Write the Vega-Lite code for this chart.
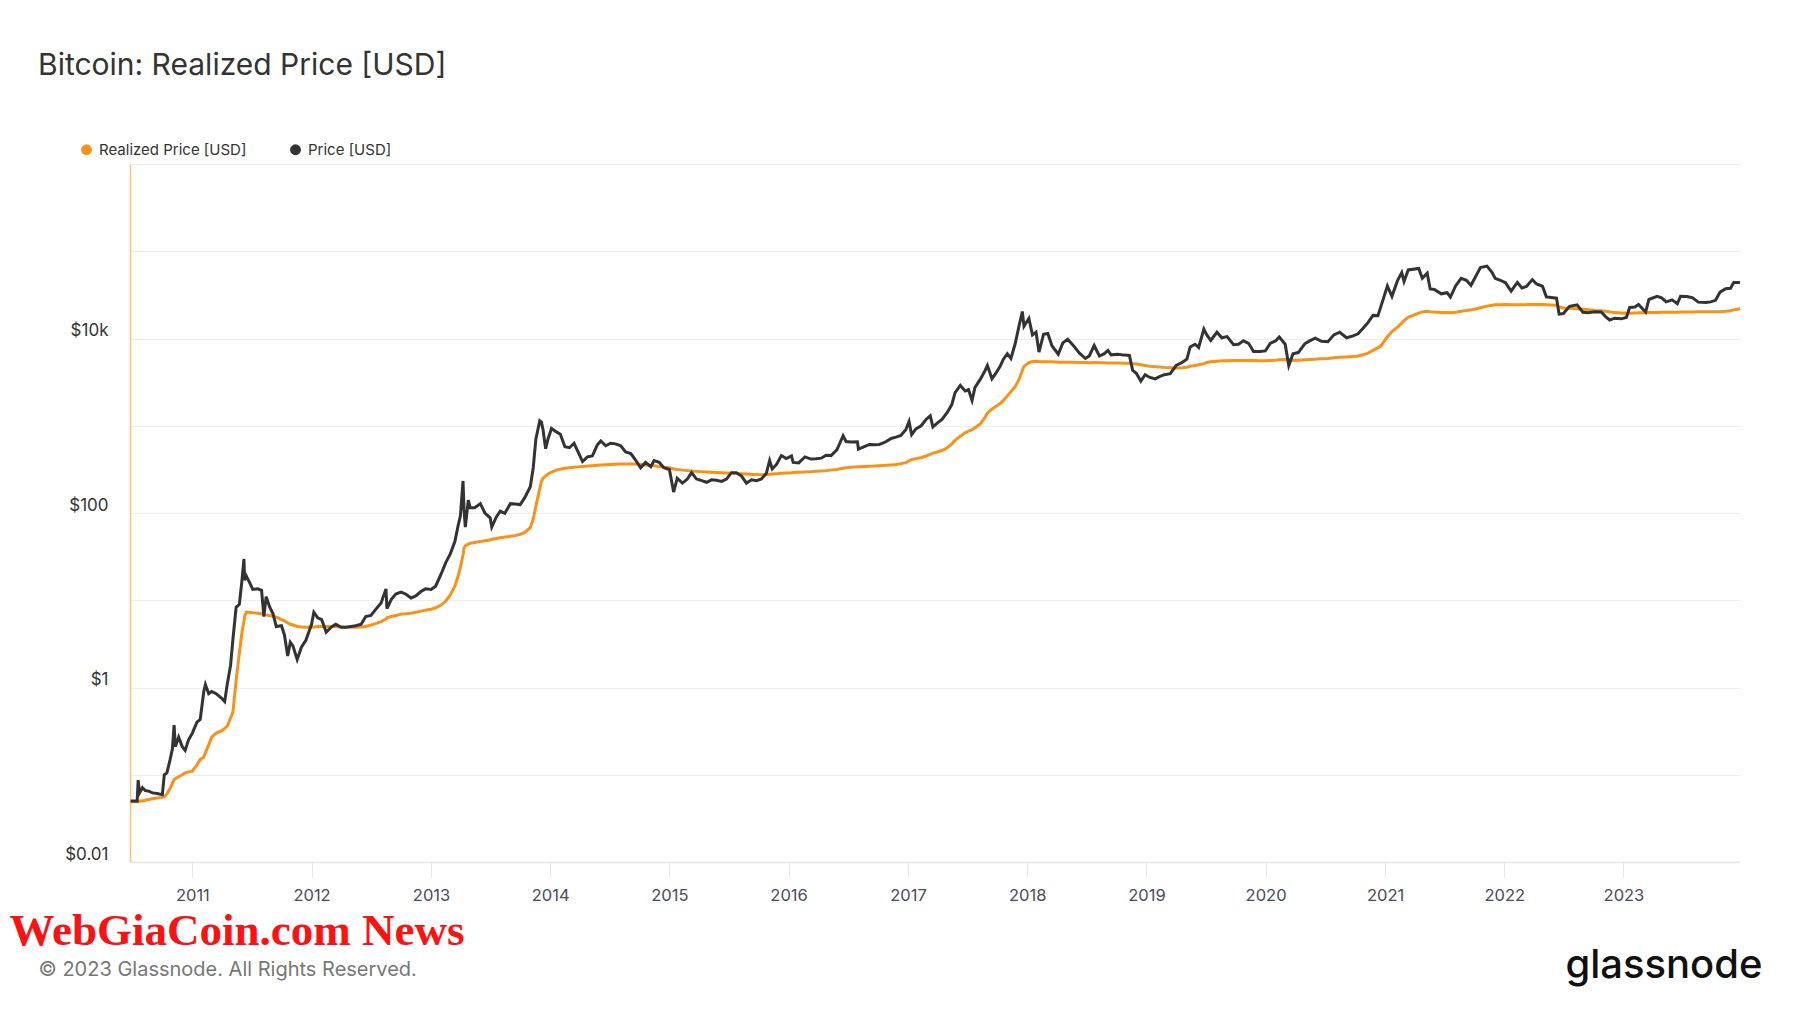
{
"$schema": "https://vega.github.io/schema/vega-lite/v6.json",
"width": 1610,
"height": 698,
"autosize": {"type": "none"},
"padding": {"left": 130, "top": 164, "right": 60, "bottom": 151},
"background": "#ffffff",
"title": {"text": "Bitcoin: Realized Price [USD]", "anchor": "start", "frame": "group", "dx": -92, "offset": 37, "font": "Inter", "fontSize": 30, "fontWeight": "normal", "color": "#333333", "baseline": "alphabetic"},
"config": {
  "view": {"stroke": null},
  "font": "Inter",
  "legend": {"orient": "none", "legendX": -51, "legendY": -22, "direction": "horizontal", "padding": 0, "columnPadding": 41, "labelFont": "Inter", "labelFontSize": 15, "labelColor": "#333333", "symbolType": "circle", "symbolSize": 120, "symbolStrokeWidth": 0, "labelOffset": 5, "title": null}
},
"data": {"values": [
{"d":"2010-06-26","p":0.05,"r":0.049},
{"d":"2010-07-16","p":0.05,"r":0.049},
{"d":"2010-07-19","p":0.087,"r":0.049},
{"d":"2010-07-23","p":0.062,"r":0.05},
{"d":"2010-08-01","p":0.071,"r":0.05},
{"d":"2010-08-10","p":0.066,"r":0.051},
{"d":"2010-08-20","p":0.065,"r":0.052},
{"d":"2010-09-01","p":0.062,"r":0.053},
{"d":"2010-09-15","p":0.061,"r":0.054},
{"d":"2010-10-01","p":0.059,"r":0.055},
{"d":"2010-10-07","p":0.1,"r":0.056},
{"d":"2010-10-15","p":0.105,"r":0.06},
{"d":"2010-10-25","p":0.15,"r":0.07},
{"d":"2010-11-01","p":0.2,"r":0.08},
{"d":"2010-11-06","p":0.37,"r":0.088},
{"d":"2010-11-10","p":0.21,"r":0.09},
{"d":"2010-11-20","p":0.27,"r":0.095},
{"d":"2010-12-01","p":0.21,"r":0.1},
{"d":"2010-12-10","p":0.19,"r":0.105},
{"d":"2010-12-20","p":0.25,"r":0.108},
{"d":"2011-01-01","p":0.3,"r":0.11},
{"d":"2011-01-15","p":0.4,"r":0.13},
{"d":"2011-01-25","p":0.43,"r":0.15},
{"d":"2011-02-05","p":0.9,"r":0.16},
{"d":"2011-02-10","p":1.08,"r":0.18},
{"d":"2011-02-20","p":0.85,"r":0.22},
{"d":"2011-03-01","p":0.9,"r":0.27},
{"d":"2011-03-15","p":0.85,"r":0.3},
{"d":"2011-04-01","p":0.75,"r":0.32},
{"d":"2011-04-10","p":0.69,"r":0.34},
{"d":"2011-04-18","p":1.1,"r":0.36},
{"d":"2011-04-28","p":1.8,"r":0.45},
{"d":"2011-05-05","p":3.5,"r":0.52},
{"d":"2011-05-15","p":8.3,"r":1.2},
{"d":"2011-05-25","p":9,"r":2.5},
{"d":"2011-06-02","p":17,"r":4.3},
{"d":"2011-06-08","p":29.7,"r":5.8},
{"d":"2011-06-10","p":17,"r":6.5},
{"d":"2011-06-15","p":19,"r":7.3},
{"d":"2011-06-25","p":16,"r":7.3},
{"d":"2011-07-05","p":13.3,"r":7.2},
{"d":"2011-07-20","p":13.5,"r":7.1},
{"d":"2011-08-01","p":13,"r":7.0},
{"d":"2011-08-08","p":6.5,"r":6.9},
{"d":"2011-08-15","p":11,"r":6.8},
{"d":"2011-08-25","p":8.5,"r":6.7},
{"d":"2011-09-05","p":7,"r":6.6},
{"d":"2011-09-15","p":5.0,"r":6.4},
{"d":"2011-10-01","p":5.1,"r":6.0},
{"d":"2011-10-10","p":4,"r":5.8},
{"d":"2011-10-20","p":2.3,"r":5.5},
{"d":"2011-10-28","p":3.3,"r":5.3},
{"d":"2011-11-05","p":3.0,"r":5.2},
{"d":"2011-11-18","p":2.1,"r":5.0},
{"d":"2011-12-01","p":2.9,"r":4.95},
{"d":"2011-12-15","p":3.5,"r":4.9},
{"d":"2012-01-01","p":5.3,"r":4.9},
{"d":"2012-01-08","p":7.3,"r":4.95},
{"d":"2012-01-20","p":6.3,"r":5.0},
{"d":"2012-02-01","p":6.0,"r":5.0},
{"d":"2012-02-15","p":4.3,"r":5.0},
{"d":"2012-03-01","p":4.9,"r":5.0},
{"d":"2012-03-15","p":5.3,"r":5.0},
{"d":"2012-04-01","p":4.9,"r":4.95},
{"d":"2012-04-15","p":4.9,"r":4.9},
{"d":"2012-05-01","p":5.0,"r":4.9},
{"d":"2012-05-15","p":5.1,"r":4.9},
{"d":"2012-06-01","p":5.3,"r":4.95},
{"d":"2012-06-15","p":6.5,"r":5.0},
{"d":"2012-07-01","p":6.7,"r":5.2},
{"d":"2012-07-15","p":7.8,"r":5.4},
{"d":"2012-08-01","p":9.3,"r":5.7},
{"d":"2012-08-16","p":13.5,"r":6.1},
{"d":"2012-08-19","p":8,"r":6.3},
{"d":"2012-09-01","p":10.2,"r":6.5},
{"d":"2012-09-15","p":11.8,"r":6.7},
{"d":"2012-10-01","p":12.4,"r":6.9},
{"d":"2012-10-15","p":11.8,"r":7.0},
{"d":"2012-11-01","p":10.6,"r":7.1},
{"d":"2012-11-15","p":11.2,"r":7.3},
{"d":"2012-12-01","p":12.6,"r":7.5},
{"d":"2012-12-15","p":13.5,"r":7.7},
{"d":"2013-01-01","p":13.3,"r":7.9},
{"d":"2013-01-15","p":14.5,"r":8.2},
{"d":"2013-02-01","p":20,"r":8.8},
{"d":"2013-02-15","p":27,"r":9.8},
{"d":"2013-03-01","p":34,"r":11.5},
{"d":"2013-03-15","p":47,"r":14.5},
{"d":"2013-03-25","p":72,"r":19},
{"d":"2013-04-01","p":93,"r":24},
{"d":"2013-04-09","p":233,"r":33},
{"d":"2013-04-12","p":110,"r":40},
{"d":"2013-04-16","p":69,"r":42},
{"d":"2013-04-25","p":140,"r":44},
{"d":"2013-05-01","p":115,"r":45},
{"d":"2013-05-15","p":115,"r":46},
{"d":"2013-06-01","p":128,"r":47},
{"d":"2013-06-15","p":100,"r":48},
{"d":"2013-07-01","p":88,"r":49},
{"d":"2013-07-06","p":69,"r":50},
{"d":"2013-07-20","p":90,"r":51},
{"d":"2013-08-01","p":105,"r":52},
{"d":"2013-08-15","p":99,"r":53},
{"d":"2013-09-01","p":128,"r":54},
{"d":"2013-09-15","p":127,"r":55},
{"d":"2013-10-01","p":125,"r":57},
{"d":"2013-10-15","p":150,"r":60},
{"d":"2013-11-01","p":200,"r":68},
{"d":"2013-11-10","p":330,"r":85},
{"d":"2013-11-18","p":700,"r":120},
{"d":"2013-11-30","p":1140,"r":190},
{"d":"2013-12-05","p":1100,"r":230},
{"d":"2013-12-10","p":900,"r":250},
{"d":"2013-12-18","p":545,"r":265},
{"d":"2013-12-25","p":700,"r":280},
{"d":"2014-01-05","p":930,"r":295},
{"d":"2014-01-20","p":850,"r":310},
{"d":"2014-02-01","p":800,"r":318},
{"d":"2014-02-15","p":575,"r":325},
{"d":"2014-03-01","p":560,"r":330},
{"d":"2014-03-15","p":630,"r":335},
{"d":"2014-04-01","p":460,"r":340},
{"d":"2014-04-10","p":389,"r":342},
{"d":"2014-04-25","p":440,"r":345},
{"d":"2014-05-10","p":450,"r":348},
{"d":"2014-05-25","p":600,"r":352},
{"d":"2014-06-05","p":670,"r":355},
{"d":"2014-06-20","p":590,"r":358},
{"d":"2014-07-05","p":630,"r":360},
{"d":"2014-07-20","p":620,"r":362},
{"d":"2014-08-05","p":590,"r":364},
{"d":"2014-08-20","p":500,"r":365},
{"d":"2014-09-05","p":480,"r":365},
{"d":"2014-09-20","p":400,"r":364},
{"d":"2014-10-05","p":330,"r":360},
{"d":"2014-10-20","p":380,"r":355},
{"d":"2014-11-05","p":340,"r":350},
{"d":"2014-11-15","p":398,"r":348},
{"d":"2014-12-01","p":380,"r":340},
{"d":"2014-12-15","p":330,"r":335},
{"d":"2015-01-01","p":315,"r":330},
{"d":"2015-01-14","p":174,"r":320},
{"d":"2015-01-25","p":250,"r":315},
{"d":"2015-02-10","p":220,"r":310},
{"d":"2015-02-25","p":245,"r":306},
{"d":"2015-03-10","p":290,"r":303},
{"d":"2015-03-25","p":245,"r":300},
{"d":"2015-04-10","p":235,"r":297},
{"d":"2015-04-25","p":225,"r":295},
{"d":"2015-05-10","p":240,"r":293},
{"d":"2015-05-25","p":237,"r":291},
{"d":"2015-06-10","p":230,"r":289},
{"d":"2015-06-25","p":245,"r":287},
{"d":"2015-07-10","p":290,"r":285},
{"d":"2015-07-25","p":290,"r":283},
{"d":"2015-08-10","p":265,"r":281},
{"d":"2015-08-25","p":220,"r":279},
{"d":"2015-09-10","p":240,"r":277},
{"d":"2015-09-25","p":235,"r":276},
{"d":"2015-10-10","p":245,"r":275},
{"d":"2015-10-25","p":285,"r":275},
{"d":"2015-11-04","p":400,"r":278},
{"d":"2015-11-12","p":320,"r":280},
{"d":"2015-11-25","p":360,"r":282},
{"d":"2015-12-10","p":455,"r":285},
{"d":"2015-12-25","p":420,"r":288},
{"d":"2016-01-10","p":450,"r":290},
{"d":"2016-01-15","p":380,"r":292},
{"d":"2016-02-01","p":375,"r":294},
{"d":"2016-02-20","p":440,"r":296},
{"d":"2016-03-10","p":415,"r":298},
{"d":"2016-03-25","p":418,"r":300},
{"d":"2016-04-10","p":425,"r":303},
{"d":"2016-04-25","p":460,"r":306},
{"d":"2016-05-10","p":455,"r":310},
{"d":"2016-05-28","p":530,"r":315},
{"d":"2016-06-16","p":770,"r":325},
{"d":"2016-06-25","p":660,"r":330},
{"d":"2016-07-10","p":650,"r":335},
{"d":"2016-07-30","p":655,"r":338},
{"d":"2016-08-02","p":540,"r":340},
{"d":"2016-08-20","p":575,"r":342},
{"d":"2016-09-05","p":610,"r":344},
{"d":"2016-09-20","p":605,"r":346},
{"d":"2016-10-05","p":610,"r":349},
{"d":"2016-10-25","p":655,"r":352},
{"d":"2016-11-10","p":715,"r":356},
{"d":"2016-11-25","p":740,"r":360},
{"d":"2016-12-10","p":775,"r":368},
{"d":"2016-12-25","p":900,"r":378},
{"d":"2017-01-04","p":1120,"r":395},
{"d":"2017-01-12","p":790,"r":410},
{"d":"2017-01-25","p":920,"r":420},
{"d":"2017-02-10","p":1000,"r":430},
{"d":"2017-02-25","p":1180,"r":450},
{"d":"2017-03-10","p":1300,"r":470},
{"d":"2017-03-18","p":970,"r":485},
{"d":"2017-04-01","p":1080,"r":500},
{"d":"2017-04-15","p":1180,"r":520},
{"d":"2017-05-01","p":1420,"r":560},
{"d":"2017-05-15","p":1750,"r":620},
{"d":"2017-05-25","p":2400,"r":680},
{"d":"2017-06-10","p":2900,"r":760},
{"d":"2017-06-25","p":2500,"r":830},
{"d":"2017-07-05","p":2600,"r":870},
{"d":"2017-07-16","p":1950,"r":900},
{"d":"2017-07-25","p":2750,"r":950},
{"d":"2017-08-10","p":3400,"r":1050},
{"d":"2017-08-25","p":4300,"r":1250},
{"d":"2017-09-01","p":4900,"r":1400},
{"d":"2017-09-15","p":3450,"r":1550},
{"d":"2017-09-25","p":3900,"r":1650},
{"d":"2017-10-10","p":4800,"r":1800},
{"d":"2017-10-20","p":5800,"r":1950},
{"d":"2017-11-01","p":6700,"r":2200},
{"d":"2017-11-12","p":5900,"r":2450},
{"d":"2017-11-25","p":8700,"r":2800},
{"d":"2017-12-07","p":14000,"r":3400},
{"d":"2017-12-17","p":20400,"r":4300},
{"d":"2017-12-22","p":13800,"r":4800},
{"d":"2018-01-06","p":17000,"r":5300},
{"d":"2018-01-17","p":11000,"r":5450},
{"d":"2018-01-28","p":11800,"r":5500},
{"d":"2018-02-06","p":7000,"r":5450},
{"d":"2018-02-20","p":11200,"r":5400},
{"d":"2018-03-05","p":11400,"r":5400},
{"d":"2018-03-18","p":8200,"r":5400},
{"d":"2018-04-06","p":6600,"r":5350},
{"d":"2018-04-20","p":8900,"r":5350},
{"d":"2018-05-05","p":9800,"r":5350},
{"d":"2018-05-20","p":8500,"r":5330},
{"d":"2018-06-10","p":6800,"r":5300},
{"d":"2018-06-28","p":5900,"r":5300},
{"d":"2018-07-10","p":6300,"r":5280},
{"d":"2018-07-25","p":8300,"r":5300},
{"d":"2018-08-10","p":6300,"r":5280},
{"d":"2018-08-25","p":6700,"r":5270},
{"d":"2018-09-05","p":7300,"r":5250},
{"d":"2018-09-15","p":6500,"r":5250},
{"d":"2018-10-05","p":6600,"r":5230},
{"d":"2018-10-25","p":6450,"r":5220},
{"d":"2018-11-10","p":6400,"r":5200},
{"d":"2018-11-20","p":4300,"r":5150},
{"d":"2018-12-01","p":4000,"r":5100},
{"d":"2018-12-15","p":3250,"r":5000},
{"d":"2018-12-28","p":3850,"r":4900},
{"d":"2019-01-10","p":3600,"r":4800},
{"d":"2019-01-28","p":3450,"r":4750},
{"d":"2019-02-10","p":3650,"r":4700},
{"d":"2019-02-25","p":3850,"r":4650},
{"d":"2019-03-15","p":3950,"r":4620},
{"d":"2019-04-02","p":4900,"r":4600},
{"d":"2019-04-20","p":5300,"r":4620},
{"d":"2019-05-05","p":5800,"r":4680},
{"d":"2019-05-15","p":8000,"r":4800},
{"d":"2019-05-30","p":8600,"r":4900},
{"d":"2019-06-10","p":7900,"r":5000},
{"d":"2019-06-26","p":12800,"r":5150},
{"d":"2019-07-05","p":11000,"r":5300},
{"d":"2019-07-17","p":9500,"r":5400},
{"d":"2019-08-05","p":11800,"r":5500},
{"d":"2019-08-20","p":10200,"r":5550},
{"d":"2019-09-05","p":10500,"r":5570},
{"d":"2019-09-25","p":8500,"r":5580},
{"d":"2019-10-10","p":8600,"r":5580},
{"d":"2019-10-25","p":9400,"r":5580},
{"d":"2019-11-10","p":8800,"r":5580},
{"d":"2019-11-25","p":7100,"r":5580},
{"d":"2019-12-15","p":7100,"r":5570},
{"d":"2019-12-31","p":7200,"r":5560},
{"d":"2020-01-15","p":8800,"r":5600},
{"d":"2020-02-01","p":9400,"r":5650},
{"d":"2020-02-12","p":10400,"r":5700},
{"d":"2020-03-01","p":8600,"r":5750},
{"d":"2020-03-12","p":4900,"r":5700},
{"d":"2020-03-25","p":6700,"r":5650},
{"d":"2020-04-10","p":6900,"r":5650},
{"d":"2020-04-30","p":8700,"r":5700},
{"d":"2020-05-15","p":9400,"r":5750},
{"d":"2020-06-01","p":10100,"r":5800},
{"d":"2020-06-20","p":9300,"r":5850},
{"d":"2020-07-10","p":9200,"r":5900},
{"d":"2020-07-28","p":11000,"r":6000},
{"d":"2020-08-15","p":11800,"r":6100},
{"d":"2020-09-05","p":10200,"r":6150},
{"d":"2020-09-25","p":10700,"r":6200},
{"d":"2020-10-10","p":11300,"r":6300},
{"d":"2020-10-25","p":13000,"r":6500},
{"d":"2020-11-10","p":15300,"r":6800},
{"d":"2020-11-25","p":18400,"r":7300},
{"d":"2020-12-10","p":18300,"r":7800},
{"d":"2020-12-20","p":23800,"r":8300},
{"d":"2021-01-08","p":40000,"r":10500},
{"d":"2021-01-22","p":30400,"r":12000},
{"d":"2021-02-08","p":46000,"r":13500},
{"d":"2021-02-21","p":57000,"r":15000},
{"d":"2021-02-28","p":45000,"r":16000},
{"d":"2021-03-13","p":61000,"r":17500},
{"d":"2021-04-14","p":63500,"r":19500},
{"d":"2021-04-25","p":49000,"r":20200},
{"d":"2021-05-10","p":56000,"r":20500},
{"d":"2021-05-19","p":37000,"r":20300},
{"d":"2021-06-01","p":36500,"r":20100},
{"d":"2021-06-22","p":32500,"r":19900},
{"d":"2021-07-10","p":33500,"r":19800},
{"d":"2021-07-20","p":29800,"r":19700},
{"d":"2021-08-05","p":40000,"r":20000},
{"d":"2021-08-22","p":49000,"r":20500},
{"d":"2021-09-07","p":46500,"r":21000},
{"d":"2021-09-21","p":40700,"r":21300},
{"d":"2021-10-05","p":51000,"r":21800},
{"d":"2021-10-20","p":65000,"r":22500},
{"d":"2021-11-09","p":67500,"r":23500},
{"d":"2021-11-25","p":57000,"r":24000},
{"d":"2021-12-04","p":49000,"r":24300},
{"d":"2021-12-20","p":46500,"r":24400},
{"d":"2022-01-05","p":43500,"r":24500},
{"d":"2022-01-22","p":35000,"r":24400},
{"d":"2022-02-10","p":44000,"r":24400},
{"d":"2022-02-24","p":38000,"r":24400},
{"d":"2022-03-10","p":39500,"r":24450},
{"d":"2022-03-28","p":47300,"r":24600},
{"d":"2022-04-10","p":42200,"r":24600},
{"d":"2022-04-28","p":39700,"r":24600},
{"d":"2022-05-10","p":30000,"r":24400},
{"d":"2022-05-25","p":29500,"r":24200},
{"d":"2022-06-10","p":29000,"r":24000},
{"d":"2022-06-18","p":19000,"r":23000},
{"d":"2022-07-01","p":19300,"r":22400},
{"d":"2022-07-20","p":23400,"r":22200},
{"d":"2022-08-12","p":24300,"r":21900},
{"d":"2022-08-30","p":20000,"r":21600},
{"d":"2022-09-15","p":19700,"r":21300},
{"d":"2022-10-05","p":20300,"r":21000},
{"d":"2022-10-25","p":20100,"r":20800},
{"d":"2022-11-08","p":17700,"r":20500},
{"d":"2022-11-20","p":16300,"r":20100},
{"d":"2022-12-05","p":17100,"r":19800},
{"d":"2022-12-25","p":16800,"r":19600},
{"d":"2023-01-10","p":17400,"r":19500},
{"d":"2023-01-20","p":22700,"r":19500},
{"d":"2023-02-05","p":23000,"r":19600},
{"d":"2023-02-16","p":24500,"r":19700},
{"d":"2023-03-10","p":20100,"r":19700},
{"d":"2023-03-20","p":28000,"r":19800},
{"d":"2023-04-14","p":30400,"r":19900},
{"d":"2023-04-28","p":29300,"r":20000},
{"d":"2023-05-12","p":26300,"r":20000},
{"d":"2023-05-30","p":27700,"r":20000},
{"d":"2023-06-15","p":25100,"r":20000},
{"d":"2023-06-25","p":30500,"r":20100},
{"d":"2023-07-15","p":30300,"r":20100},
{"d":"2023-08-01","p":29200,"r":20150},
{"d":"2023-08-18","p":26100,"r":20200},
{"d":"2023-09-10","p":25800,"r":20200},
{"d":"2023-09-25","p":26300,"r":20200},
{"d":"2023-10-10","p":27400,"r":20200},
{"d":"2023-10-24","p":34000,"r":20300},
{"d":"2023-11-10","p":37200,"r":20500},
{"d":"2023-11-25","p":37700,"r":20800},
{"d":"2023-12-05","p":44000,"r":21300},
{"d":"2023-12-10","p":43700,"r":21500},
{"d":"2023-12-20","p":43800,"r":21800},
{"d":"2023-12-24","p":43600,"r":22000}
]},
"layer": [
  {
    "mark": {"type": "line", "strokeWidth": 3, "interpolate": "linear"},
    "encoding": {
      "x": {"field": "d", "type": "temporal", "scale": {"domain": ["2010-06-24", "2023-12-24"]},
        "axis": {"orient": "bottom", "format": "%Y", "tickCount": {"interval": "year", "step": 1}, "grid": false, "domainColor": "#e6e6e6", "domainWidth": 1.5, "ticks": true, "tickColor": "#e6e6e6", "tickSize": 15, "tickWidth": 1, "labelFont": "Inter", "labelFontSize": 16.5, "labelColor": "#4a4a5a", "labelPadding": 10, "labelFlush": false, "labelOverlap": false,
          "title": "© 2023 Glassnode. All Rights Reserved.", "titleX": -92, "titleY": 113, "titleAlign": "left", "titleAnchor": null, "titleBaseline": "alphabetic", "titleFont": "Inter", "titleFontSize": 20, "titleFontWeight": "normal", "titleColor": "#777777"}},
      "y": {"field": "r", "type": "quantitative", "scale": {"type": "log", "domain": [0.01, 1000000]},
        "axis": {"values": [0.01, 0.1, 1, 10, 100, 1000, 10000, 100000, 1000000], "labelExpr": "datum.value == 0.01 ? '$0.01' : datum.value == 1 ? '$1' : datum.value == 100 ? '$100' : datum.value == 10000 ? '$10k' : ''", "grid": true, "gridColor": "#eeeeee", "gridWidth": 1, "ticks": false, "domain": true, "domainColor": "#f9c27f", "domainWidth": 1.5, "labelFont": "Inter", "labelFontSize": 17, "labelColor": "#333333", "labelPadding": 22, "labelBaseline": "alphabetic", "labelOffset": -3,
          "title": "glassnode", "titleX": 1632, "titleY": 813, "titleAngle": 0, "titleAlign": "right", "titleAnchor": null, "titleBaseline": "alphabetic", "titleFont": "Inter", "titleFontSize": 40, "titleFontWeight": 500, "titleColor": "#111111"}},
      "color": {"datum": "Realized Price [USD]", "type": "nominal", "scale": {"domain": ["Realized Price [USD]", "Price [USD]"], "range": ["#f7931a", "#333333"]},
        "legend": {"encode": {"symbols": {"update": {"fill": {"scale": "color", "field": "value"}, "fillOpacity": {"value": 1}, "strokeWidth": {"value": 0}}}}}}
    }
  },
  {
    "mark": {"type": "line", "strokeWidth": 3, "interpolate": "linear"},
    "encoding": {
      "x": {"field": "d", "type": "temporal",
        "axis": {"orient": "top", "labels": false, "ticks": false, "domain": false, "grid": false,
          "title": "WebGiaCoin.com News", "titleX": -121, "titleY": 780, "titleAlign": "left", "titleAnchor": null, "titleBaseline": "alphabetic", "titleFont": "Liberation Serif", "titleFontSize": 45, "titleFontWeight": "bold", "titleColor": "#ff1111"}},
      "y": {"field": "p", "type": "quantitative",
        "axis": {"values": [0.01, 0.1, 1, 10, 100, 1000, 10000, 100000, 1000000], "labelExpr": "datum.value == 0.01 ? '$0.01' : datum.value == 1 ? '$1' : datum.value == 100 ? '$100' : datum.value == 10000 ? '$10k' : ''", "grid": true, "gridColor": "#eeeeee", "gridWidth": 1, "ticks": false, "domain": true, "domainColor": "#f9c27f", "domainWidth": 1.5, "labelFont": "Inter", "labelFontSize": 17, "labelColor": "#333333", "labelPadding": 22, "labelBaseline": "alphabetic", "labelOffset": -3,
          "title": "glassnode", "titleX": 1632, "titleY": 813, "titleAngle": 0, "titleAlign": "right", "titleAnchor": null, "titleBaseline": "alphabetic", "titleFont": "Inter", "titleFontSize": 40, "titleFontWeight": 500, "titleColor": "#111111"}},
      "color": {"datum": "Price [USD]", "type": "nominal"}
    }
  }
],
"resolve": {"axis": {"x": "independent"}}
}
